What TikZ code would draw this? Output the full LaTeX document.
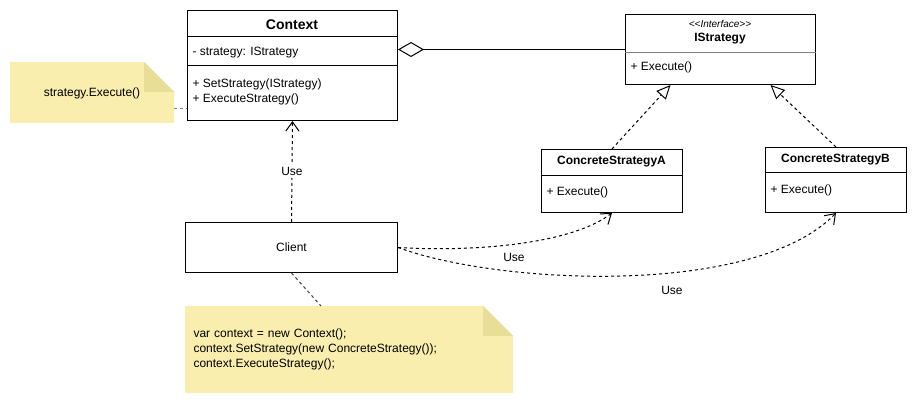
\documentclass[tikz,border=0pt]{standalone}
\usepackage{fontspec}
\setmainfont{Liberation Sans}
\usetikzlibrary{arrows.meta,backgrounds}
\def\pxu{0.75pt}
\definecolor{notagiallo}{RGB}{249,238,174}
\definecolor{piega}{RGB}{232,222,152}
\tikzset{
  tratt/.style={dash pattern=on 2.25pt off 2.25pt},
  classe/.style={draw, fill=white, inner sep=0pt, anchor=north west},
  testo/.style={font=\fontsize{9}{10.8}\selectfont, inner sep=0pt},
  titolo/.style={font=\fontsize{9}{10.8}\selectfont\bfseries, inner sep=0pt},
  membro/.style={testo, anchor=west},
  nota/.style={testo, anchor=north west},
  usa/.style={tratt, -{Straight Barb[length=7pt,width=10pt]}},
  realizza/.style={tratt, -{Triangle[open,length=10.5pt,width=9.5pt]}},
  aggrega/.style={{Diamond[open,length=19.5pt,width=11.25pt]}-},
}
\begin{document}
\begin{tikzpicture}[x=0.75pt, y=-0.75pt, line width=0.75pt]
        \useasboundingbox (0,0) rectangle (922,409);
        %classe Context
        \node[classe, minimum width=210*\pxu, minimum height=110*\pxu] (context) at (187,10) {};
        \draw ([yshift=-27*\pxu]context.north west) -- ([yshift=-27*\pxu]context.north east);
        \draw ([yshift=-56*\pxu]context.north west) -- ([yshift=-56*\pxu]context.north east);
        \node[titolo, font=\fontsize{10.5}{12}\selectfont\bfseries] (contextnome) at (292,25) {Context};
        \node[membro] (contextattr) at (192,53) {- strategy: IStrategy};
        \node[membro] (contextset) at (192,84) {+ SetStrategy(IStrategy)};
        \node[membro] (contextexec) at (192,99) {+ ExecuteStrategy()};
        %interfaccia
        \node[classe, minimum width=190*\pxu, minimum height=70*\pxu] (istrategy) at (625,14) {};
        \draw[gray] ([yshift=-39*\pxu]istrategy.north west) -- ([yshift=-39*\pxu]istrategy.north east);
        \node[testo, font=\fontsize{7.5}{9}\selectfont\itshape] (istereo) at (720,24) {<{}<Interface>{}>};
        \node[titolo] (istrategynome) at (720,39) {IStrategy};
        \node[membro] (istrategyexec) at (630,67) {+ Execute()};
        %strategie concrete
        \node[classe, minimum width=141*\pxu, minimum height=63*\pxu] (csa) at (541,149) {};
        \draw ([yshift=-27*\pxu]csa.north west) -- ([yshift=-27*\pxu]csa.north east);
        \node[titolo] (csanome) at (611.5,162) {ConcreteStrategyA};
        \node[membro] (csaexec) at (546,192) {+ Execute()};
        \node[classe, minimum width=141*\pxu, minimum height=65*\pxu] (csb) at (765,147) {};
        \draw ([yshift=-26*\pxu]csb.north west) -- ([yshift=-26*\pxu]csb.north east);
        \node[titolo] (csbnome) at (835.5,160) {ConcreteStrategyB};
        \node[membro] (csbexec) at (770,190) {+ Execute()};
        %client
        \node[classe, testo, minimum width=212*\pxu, minimum height=50*\pxu] (client) at (185,222) {Client};
        %note
        \node[nota, minimum width=163*\pxu, minimum height=60*\pxu, text depth=-2pt] (nota1) at (10,62) {strategy.Execute()};
        \node[nota, font=\fontsize{9}{11.25}\selectfont, text width=311*\pxu, minimum height=86*\pxu, inner sep=8*\pxu, align=left] (nota2) at (185,306)
          {var context = new Context();\\context.SetStrategy(new ConcreteStrategy());\\context.ExecuteStrategy();};
        \begin{scope}[on background layer]
          \fill[white] (0,0) rectangle (922,409);
          \foreach \n in {nota1,nota2}{
            \fill[notagiallo] (\n.south west) -- (\n.north west) -- ([xshift=-30*\pxu]\n.north east)
              -- ([yshift=-30*\pxu]\n.north east) -- (\n.south east) -- cycle;
            \fill[piega] ([xshift=-30*\pxu]\n.north east) -- ([xshift=-30*\pxu,yshift=-30*\pxu]\n.north east)
              -- ([yshift=-30*\pxu]\n.north east) -- cycle;
          }
        \end{scope}
        %relazioni
        \draw[aggrega] (context.east |- istrategy.west) -- (istrategy.west);
        \draw[realizza] (csa.north) -- ([xshift=-50*\pxu]istrategy.south);
        \draw[realizza] (csb.north) -- ([xshift=50*\pxu]istrategy.south);
        \draw[usa] (client.north) -- node[testo, fill=white, inner sep=2pt] (uso1) {Use} (context.south);
        \draw[usa] (client.east) .. controls (470,252) and (570,245) .. (csa.south);
        \node[testo] (uso2) at (514,257) {Use};
        \draw[usa] (client.east) .. controls (500,285) and (755,297) .. (csb.south);
        \node[testo] (uso3) at (672,290) {Use};
        \draw[tratt, gray] ([yshift=-16*\pxu]nota1.east) -- ([yshift=-16*\pxu]nota1.east -| context.west);
        \draw[tratt, darkgray] (client.south) -- ([xshift=-28*\pxu]nota2.north);
    \end{tikzpicture}
\end{document}
